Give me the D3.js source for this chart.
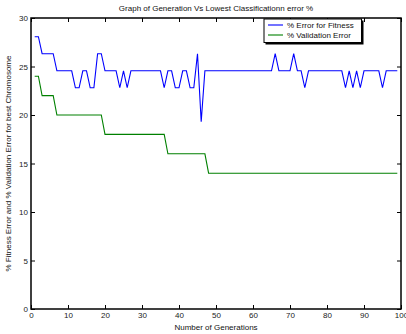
<!DOCTYPE html>
<html>
<head>
<meta charset="utf-8">
<script src="https://cdn.jsdelivr.net/npm/d3@7"></script>
<style>
  body { margin: 0; background: #fff; }
  text { font-family: "Liberation Sans", Arial, sans-serif; }
</style>
</head>
<body>
<div id="chart"></div>
<script>
// generations 1..99
var generations = d3.range(1, 100);

var fitnessError = [
  28.07, 28.07, 26.32, 26.32, 26.32, 26.32, 24.56, 24.56, 24.56, 24.56,
  24.56, 22.81, 22.81, 24.56, 24.56, 22.81, 22.81, 26.32, 26.32, 24.56,
  24.56, 24.56, 24.56, 22.81, 24.56, 22.81, 24.56, 24.56, 24.56, 24.56,
  24.56, 24.56, 24.56, 24.56, 24.56, 22.81, 24.56, 24.56, 22.81, 22.81,
  24.56, 24.56, 22.81, 22.81, 26.32, 19.30, 24.56, 24.56, 24.56, 24.56,
  24.56, 24.56, 24.56, 24.56, 24.56, 24.56, 24.56, 24.56, 24.56, 24.56,
  24.56, 24.56, 24.56, 24.56, 24.56, 26.32, 24.56, 24.56, 24.56, 24.56,
  26.32, 24.56, 24.56, 22.81, 24.56, 24.56, 24.56, 24.56, 24.56, 24.56,
  24.56, 24.56, 24.56, 24.56, 22.81, 24.56, 22.81, 24.56, 22.81, 24.56,
  24.56, 24.56, 24.56, 24.56, 22.81, 24.56, 24.56, 24.56, 24.56
];

var validationError = [
  24, 24, 22, 22, 22, 22, 20, 20, 20, 20,
  20, 20, 20, 20, 20, 20, 20, 20, 20, 18,
  18, 18, 18, 18, 18, 18, 18, 18, 18, 18,
  18, 18, 18, 18, 18, 18, 16, 16, 16, 16,
  16, 16, 16, 16, 16, 16, 16, 14, 14, 14,
  14, 14, 14, 14, 14, 14, 14, 14, 14, 14,
  14, 14, 14, 14, 14, 14, 14, 14, 14, 14,
  14, 14, 14, 14, 14, 14, 14, 14, 14, 14,
  14, 14, 14, 14, 14, 14, 14, 14, 14, 14,
  14, 14, 14, 14, 14, 14, 14, 14, 14
];

var seriesNames = ["% Error for Fitness", "% Validation Error"];
var seriesColors = ["#0000ff", "#008000"];
var xTicks = d3.range(0, 101, 10);
var yTicks = d3.range(0, 31, 5);

var W = 406, H = 334;
var margin = {top: 18, right: 5, bottom: 25, left: 31};
var width = W - margin.left - margin.right,
    height = H - margin.top - margin.bottom;

var svg = d3.select("#chart").append("svg")
    .attr("width", W)
    .attr("height", H);

var g = svg.append("g")
    .attr("transform", "translate(" + margin.left + "," + margin.top + ")");

var x = d3.scaleLinear().domain([0, 100]).range([0, width]);
var y = d3.scaleLinear().domain([0, 30]).range([height, 0]);

// axes, ticks pointing inward (matlab style)
function styleAxis(sel) {
    sel.select(".domain").remove();
    sel.selectAll("line").attr("stroke", "#000");
    sel.selectAll("text").attr("fill", "#222").style("font-size", "8px");
}

g.append("g")
    .attr("transform", "translate(0," + height + ")")
    .call(d3.axisBottom(x).tickValues(xTicks).tickSize(-4).tickPadding(3))
    .call(styleAxis);

g.append("g")
    .call(d3.axisTop(x).tickValues(xTicks).tickSize(-4).tickFormat(""))
    .call(styleAxis);

g.append("g")
    .call(d3.axisLeft(y).tickValues(yTicks).tickSize(-4).tickPadding(3))
    .call(styleAxis);

g.append("g")
    .attr("transform", "translate(" + width + ",0)")
    .call(d3.axisRight(y).tickValues(yTicks).tickSize(-4).tickFormat(""))
    .call(styleAxis);

// box
g.append("rect")
    .attr("width", width)
    .attr("height", height)
    .attr("fill", "none")
    .attr("stroke", "#000")
    .attr("stroke-width", 1.5);

// lines
var line = d3.line()
    .x(function(d, i) { return x(generations[i]); })
    .y(function(d) { return y(d); });

[fitnessError, validationError].forEach(function(s, k) {
    g.append("path")
        .datum(s)
        .attr("fill", "none")
        .attr("stroke", seriesColors[k])
        .attr("stroke-width", 1.1)
        .attr("d", line);
});

// legend
var lg = g.append("g").attr("transform", "translate(233,1)");
lg.append("rect")
    .attr("x", 1.5).attr("y", 1.5)
    .attr("width", 98).attr("height", 24)
    .attr("fill", "#000");
lg.append("rect")
    .attr("width", 97.5).attr("height", 23.5)
    .attr("fill", "#fff")
    .attr("stroke", "#000")
    .attr("stroke-width", 1);
seriesNames.forEach(function(name, k) {
    var yy = 6 + k * 10;
    lg.append("line")
        .attr("x1", 4).attr("x2", 19)
        .attr("y1", yy).attr("y2", yy)
        .attr("stroke", seriesColors[k])
        .attr("stroke-width", 1.1);
    lg.append("text")
        .attr("x", 23).attr("y", yy + 3)
        .style("font-size", "8px")
        .attr("fill", "#111")
        .text(name);
});

// titles
svg.append("text")
    .attr("x", margin.left + width / 2)
    .attr("y", 11)
    .attr("text-anchor", "middle")
    .style("font-size", "8px")
    .attr("fill", "#111")
    .text("Graph of Generation Vs Lowest Classificationn error %");

svg.append("text")
    .attr("x", margin.left + width / 2)
    .attr("y", 330)
    .attr("text-anchor", "middle")
    .style("font-size", "8px")
    .attr("fill", "#111")
    .text("Number of Generations");

svg.append("text")
    .attr("transform", "translate(11," + (margin.top + height / 2) + ") rotate(-90)")
    .attr("text-anchor", "middle")
    .style("font-size", "8px")
    .attr("fill", "#111")
    .text("% Fitness Error and % Validation Error for best Chromosome");
</script>
</body>
</html>
